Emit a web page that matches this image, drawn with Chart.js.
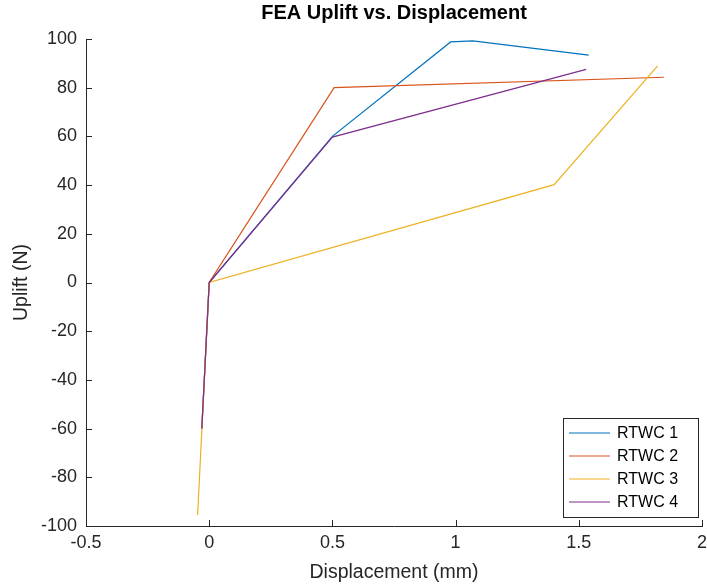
<!DOCTYPE html>
<html>
<head>
<meta charset="utf-8">
<script src="https://cdn.jsdelivr.net/npm/chart.js@4.4.1/dist/chart.umd.min.js"></script>
<style>
  html, body { margin: 0; padding: 0; background: #fff; }
  #wrap { width: 707px; height: 585px; }
</style>
</head>
<body>
<div id="wrap"><canvas id="chart" width="707" height="585"></canvas></div>
<script>
// values
const seriesNames = ['RTWC 1', 'RTWC 2', 'RTWC 3', 'RTWC 4'];
const rtwc1X = [-0.03, 0, 0.5, 0.98, 1.07, 1.54];
const rtwc1Y = [-60, 0, 60, 98.8, 99.2, 93.4];
const rtwc2X = [-0.03, 0, 0.507, 1.845];
const rtwc2Y = [-60, 0, 80, 84.3];
const rtwc3X = [-0.047, 0, 1.4, 1.82];
const rtwc3Y = [-95.5, 0, 40.2, 89];
const rtwc4X = [-0.03, 0, 0.5, 1.53];
const rtwc4Y = [-60, 0, 59.7, 87.5];
const xTicks = [-0.5, 0, 0.5, 1, 1.5, 2];
const yTicks = [-100, -80, -60, -40, -20, 0, 20, 40, 60, 80, 100];
const colors = ['#0072BD', '#D95319', '#EDB120', '#7E2F8E'];

const FONT = 'Liberation Sans, Arial, Helvetica, sans-serif';
const AXIS = '#262626';

function toPoints(xs, ys) {
    return xs.map((x, i) => ({ x: x, y: ys[i] }));
}

const allX = [rtwc1X, rtwc2X, rtwc3X, rtwc4X];
const allY = [rtwc1Y, rtwc2Y, rtwc3Y, rtwc4Y];

const datasets = seriesNames.map((name, i) => ({
    label: name,
    data: toPoints(allX[i], allY[i]),
    showLine: true,
    borderColor: colors[i],
    backgroundColor: colors[i],
    borderWidth: 1.2,
    pointRadius: 0,
    tension: 0,
    order: 3 - i   // later series on top, like matlab
}));

// inward tick marks + legend box in the lower right
const matlabBits = {
    id: 'matlabBits',
    afterDraw(chart) {
        const ctx = chart.ctx;
        const xs = chart.scales.x, ys = chart.scales.y;
        const area = chart.chartArea;
        ctx.save();
        ctx.strokeStyle = AXIS;
        ctx.lineWidth = 1;
        ctx.beginPath();
        xTicks.forEach(v => {
            const px = Math.round(xs.getPixelForValue(v)) + 0.5;
            ctx.moveTo(px, area.bottom);
            ctx.lineTo(px, area.bottom - 6);
        });
        yTicks.forEach(v => {
            const py = Math.round(ys.getPixelForValue(v)) + 0.5;
            ctx.moveTo(area.left, py);
            ctx.lineTo(area.left + 6, py);
        });
        ctx.stroke();

        // legend
        const bx = 563, by = 418, bw = 135, bh = 99;
        ctx.fillStyle = '#fff';
        ctx.fillRect(bx, by, bw, bh);
        ctx.strokeStyle = AXIS;
        ctx.strokeRect(bx + 0.5, by + 0.5, bw, bh);
        ctx.font = '16px ' + FONT;
        ctx.textBaseline = 'middle';
        chart.data.datasets.forEach((ds, i) => {
            const yy = by + 15 + i * 23;
            ctx.strokeStyle = ds.borderColor;
            ctx.lineWidth = 1.2;
            ctx.beginPath();
            ctx.moveTo(bx + 6, yy);
            ctx.lineTo(bx + 47, yy);
            ctx.stroke();
            ctx.fillStyle = '#000';
            ctx.fillText(ds.label, bx + 54, yy + 1);
        });
        ctx.restore();
    }
};

new Chart(document.getElementById('chart'), {
    type: 'scatter',
    data: { datasets: datasets },
    options: {
        responsive: false,
        animation: false,
        layout: { padding: { left: 0, right: 5, top: 0, bottom: 0 } },
        plugins: {
            legend: { display: false },
            tooltip: { enabled: false },
            title: {
                display: true,
                fullSize: false,
                text: 'FEA Uplift vs. Displacement',
                color: '#000',
                font: { family: FONT, size: 20, weight: 'bold' },
                padding: { top: 1, bottom: 14 }
            }
        },
        scales: {
            x: {
                type: 'linear',
                min: -0.5,
                max: 2,
                afterBuildTicks: s => { s.ticks = xTicks.map(v => ({ value: v })); },
                afterFit: s => { s.height = 59; s.paddingRight = 0; s.paddingLeft = 0; },
                grid: { display: false, drawTicks: false },
                border: { display: true, color: AXIS, width: 1 },
                ticks: {
                    color: AXIS,
                    font: { family: FONT, size: 18 },
                    padding: 6,
                    maxRotation: 0,
                    callback: v => String(v)
                },
                title: {
                    display: true,
                    text: 'Displacement (mm)',
                    color: AXIS,
                    font: { family: FONT, size: 19.5 },
                    padding: { top: 0, bottom: 1 }
                }
            },
            y: {
                type: 'linear',
                min: -100,
                max: 100,
                afterBuildTicks: s => { s.ticks = yTicks.map(v => ({ value: v })); },
                afterFit: s => { s.width = 86; },
                grid: { display: false, drawTicks: false },
                border: { display: true, color: AXIS, width: 1 },
                ticks: {
                    color: AXIS,
                    font: { family: FONT, size: 18 },
                    padding: 9,
                    callback: v => String(v)
                },
                title: {
                    display: true,
                    text: 'Uplift (N)',
                    color: AXIS,
                    font: { family: FONT, size: 19.5 },
                    padding: { top: 10, bottom: 0 }
                }
            }
        }
    },
    plugins: [matlabBits]
});
</script>
</body>
</html>
